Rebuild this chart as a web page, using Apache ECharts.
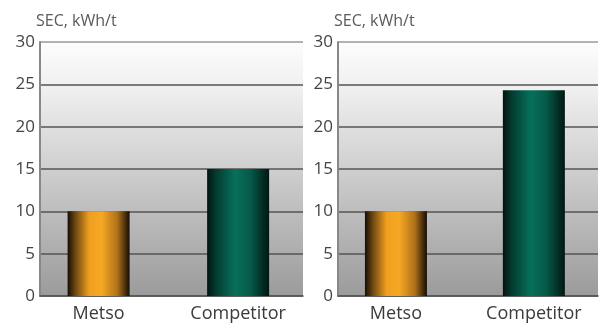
<!DOCTYPE html>
<html>
<head>
<meta charset="utf-8">
<script src="https://cdn.jsdelivr.net/npm/echarts@6/dist/echarts.min.js"></script>
<style>
  html, body { margin: 0; padding: 0; background: #fff; }
  #main { width: 601px; height: 330px; }
</style>
</head>
<body>
<div id="main"></div>
<script>
// data
const categories = ['Metso', 'Competitor']
const leftValues = [10, 15]
const rightValues = [10, 24.3]
const yTicks = [0, 5, 10, 15, 20, 25, 30]
const unitLabel = 'SEC, kWh/t'

const chart = echarts.init(document.getElementById('main'))

const bgGrad = new echarts.graphic.LinearGradient(0, 0, 0, 1, [
  { offset: 0, color: '#fdfdfd' },
  { offset: 0.2, color: '#eeeeee' },
  { offset: 1, color: '#9b9b9b' }
])
const orange = new echarts.graphic.LinearGradient(0, 0, 1, 0, [
  { offset: 0, color: '#150d04' },
  { offset: 0.12, color: '#6a4410' },
  { offset: 0.35, color: '#f0a020' },
  { offset: 0.55, color: '#f6a824' },
  { offset: 0.8, color: '#b0721a' },
  { offset: 1, color: '#140d05' }
])
const green = new echarts.graphic.LinearGradient(0, 0, 1, 0, [
  { offset: 0, color: '#021410' },
  { offset: 0.15, color: '#033d31' },
  { offset: 0.45, color: '#07705a' },
  { offset: 0.7, color: '#055a48' },
  { offset: 1, color: '#021611' }
])
const barColors = [orange, green]

function grid(left, width) {
  return { left: left, top: 42, width: width, height: 254, backgroundColor: bgGrad, show: true, borderWidth: 0 }
}
function xAxis(i) {
  return {
    type: 'value', gridIndex: i, min: -0.42, max: 1.465,
    splitLine: { show: false },
    axisLine: { show: true, onZero: false, lineStyle: { color: '#555', width: 1.5 } },
    axisTick: { show: false },
    axisLabel: {
      customValues: [0, 1],
      formatter: v => categories[v],
      color: '#3a3a3a', fontSize: 18, fontFamily: 'Open Sans', margin: 9
    }
  }
}
function yAxis(i) {
  return {
    type: 'value', gridIndex: i, min: 0, max: 30, interval: 5,
    name: unitLabel, nameLocation: 'end', nameGap: 13,
    nameTextStyle: { color: '#5a5a5a', fontSize: 16, fontFamily: 'Open Sans', align: 'left', padding: [0, 0, 0, -4] },
    axisLine: { show: true, onZero: false, lineStyle: { color: '#888', width: 2 } },
    axisTick: { show: false },
    axisLabel: {
      customValues: yTicks,
      color: '#444', fontSize: 17, fontFamily: 'Open Sans', margin: 5
    },
    splitLine: {
      lineStyle: { color: ['#555', '#555', '#555', '#555', '#555', '#555', '#999'], width: 1.5 }
    }
  }
}
function bars(i, vals) {
  return {
    type: 'bar', xAxisIndex: i, yAxisIndex: i, barWidth: 62,
    data: vals.map((v, k) => ({ value: [k, v], itemStyle: { color: barColors[k] } })),
    silent: true
  }
}

const option = {
  animation: false,
  grid: [grid(40, 263), grid(338, 260)],
  xAxis: [xAxis(0), xAxis(1)],
  yAxis: [yAxis(0), yAxis(1)],
  series: [bars(0, leftValues), bars(1, rightValues)]
}
chart.setOption(option)
</script>
</body>
</html>
